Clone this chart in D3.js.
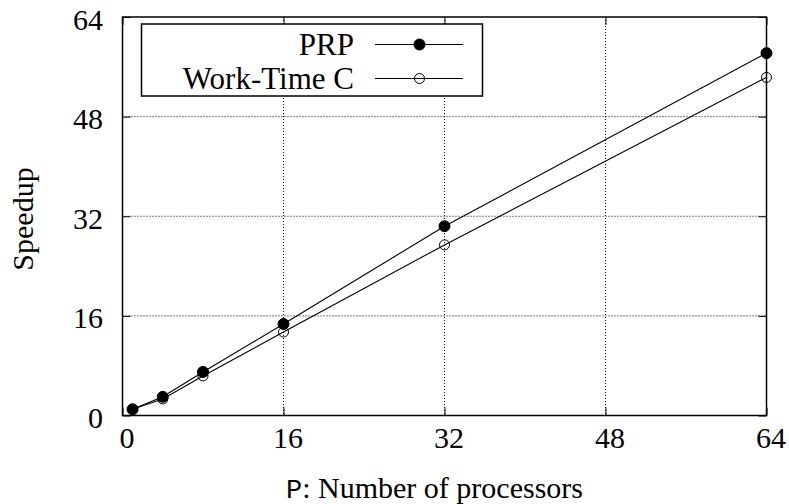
<!DOCTYPE html>
<html>
<head>
<meta charset="utf-8">
<script src="https://cdn.jsdelivr.net/npm/d3@7"></script>
<style>
  html, body { margin: 0; padding: 0; background: #fff; }
  svg { display: block; }
</style>
</head>
<body>
<svg id="chart" width="789" height="504"></svg>
<script>
// Processor counts and measured speedups
const processors = [1, 4, 8, 16, 32, 64];
const prpSpeedup = [1.0, 3.0, 7.0, 14.7, 30.4, 58.2];
const workTimeCSpeedup = [1.0, 2.65, 6.35, 13.4, 27.4, 54.3];
const seriesNames = ["PRP", "Work-Time C"];
const xTicks = [0, 16, 32, 48, 64];
const yTicks = [0, 16, 32, 48, 64];

const SERIF = "Liberation Serif";
const MONO = "Liberation Mono";

const svg = d3.select("#chart");
const m = { left: 122.5, right: 766.5, top: 17, bottom: 415.5 };

const x = d3.scaleLinear().domain([0, 64]).range([m.left, m.right]);
const y = d3.scaleLinear().domain([0, 64]).range([m.bottom, m.top]);

const FS = 30;
const LEGEND_FS = 31;
const tickLen = 8;

// dotted grid at interior ticks
const grid = svg.append("g");
xTicks.filter(t => t > 0 && t < 64).forEach(t => {
  grid.append("line")
    .attr("x1", x(t)).attr("x2", x(t)).attr("y1", m.top).attr("y2", m.bottom)
    .attr("stroke", "#000").attr("stroke-width", 1).attr("stroke-dasharray", "1,2");
});
yTicks.filter(t => t > 0 && t < 64).forEach(t => {
  grid.append("line")
    .attr("x1", m.left).attr("x2", m.right).attr("y1", y(t)).attr("y2", y(t))
    .attr("stroke", "#000").attr("stroke-width", 1).attr("stroke-dasharray", "1,2");
});

// axes with inward ticks, mirrored on the opposite side
const xAxis = d3.axisBottom(x).tickValues(xTicks).tickSizeInner(-tickLen).tickSizeOuter(0).tickPadding(11.5);
const yAxis = d3.axisLeft(y).tickValues(yTicks).tickSizeInner(-tickLen).tickSizeOuter(0).tickPadding(19.5);
const xAxisTop = d3.axisTop(x).tickValues(xTicks).tickSizeInner(-tickLen).tickSizeOuter(0).tickFormat("");
const yAxisRight = d3.axisRight(y).tickValues(yTicks).tickSizeInner(-tickLen).tickSizeOuter(0).tickFormat("");

function styleAxis(g) {
  g.attr("font-family", SERIF).attr("font-size", FS);
  g.select(".domain").remove();
  g.selectAll(".tick line").attr("stroke", "#000").attr("stroke-width", 1);
  g.selectAll(".tick text").attr("fill", "#000");
}

svg.append("g").attr("transform", `translate(0,${m.bottom})`).call(xAxis).call(styleAxis)
  .selectAll(".tick text").attr("dy", "0.71em").attr("dx", 4);
svg.append("g").attr("transform", `translate(${m.left},0)`).call(yAxis).call(styleAxis)
  .selectAll(".tick text").attr("dy", "0.4em");
svg.append("g").attr("transform", `translate(0,${m.top})`).call(xAxisTop).call(styleAxis);
svg.append("g").attr("transform", `translate(${m.right},0)`).call(yAxisRight).call(styleAxis);

// plot border
svg.append("rect")
  .attr("x", m.left).attr("y", m.top)
  .attr("width", m.right - m.left).attr("height", m.bottom - m.top)
  .attr("fill", "none").attr("stroke", "#000").attr("stroke-width", 1.5);

// series
const line = d3.line().x(d => x(d[0])).y(d => y(d[1]));
const series = [
  { name: seriesNames[0], values: processors.map((p, i) => [p, prpSpeedup[i]]), filled: true },
  { name: seriesNames[1], values: processors.map((p, i) => [p, workTimeCSpeedup[i]]), filled: false }
];

// filled dot or hollow ring (the line stays visible through the ring)
function marker(g, cx, cy, filled) {
  g.append("circle")
    .attr("cx", cx).attr("cy", cy).attr("r", filled ? 5.5 : 5)
    .attr("fill", filled ? "#000" : "none")
    .attr("stroke", "#000").attr("stroke-width", 1);
}

[series[1], series[0]].forEach(s => {
  svg.append("path").datum(s.values).attr("d", line)
    .attr("fill", "none").attr("stroke", "#000").attr("stroke-width", 1.1);
});
[series[1], series[0]].forEach(s => {
  const g = svg.append("g");
  s.values.forEach(d => marker(g, x(d[0]), y(d[1]), s.filled));
});

// legend
const lg = svg.append("g");
lg.append("rect")
  .attr("x", 141.5).attr("y", 24).attr("width", 341).attr("height", 72)
  .attr("fill", "#fff").attr("stroke", "#000").attr("stroke-width", 1.5);
const rows = [44.5, 78.5];
series.forEach((s, i) => {
  lg.append("text")
    .attr("x", 354).attr("y", rows[i] + 10)
    .attr("text-anchor", "end")
    .attr("font-family", SERIF).attr("font-size", LEGEND_FS)
    .text(s.name);
  lg.append("line")
    .attr("x1", 375).attr("x2", 463).attr("y1", rows[i]).attr("y2", rows[i])
    .attr("stroke", "#000").attr("stroke-width", 1.1);
  marker(lg, 419.5, rows[i], s.filled);
});

// axis titles
svg.append("text")
  .attr("transform", "translate(33,219) rotate(-90)")
  .attr("text-anchor", "middle")
  .attr("font-family", SERIF).attr("font-size", FS)
  .text("Speedup");

const xt = svg.append("text")
  .attr("x", 286).attr("y", 497.5)
  .attr("font-family", SERIF).attr("font-size", FS);
xt.append("tspan").attr("font-family", MONO).attr("font-size", 27).text("P");
xt.append("tspan").text(": Number of processors");
</script>
</body>
</html>
